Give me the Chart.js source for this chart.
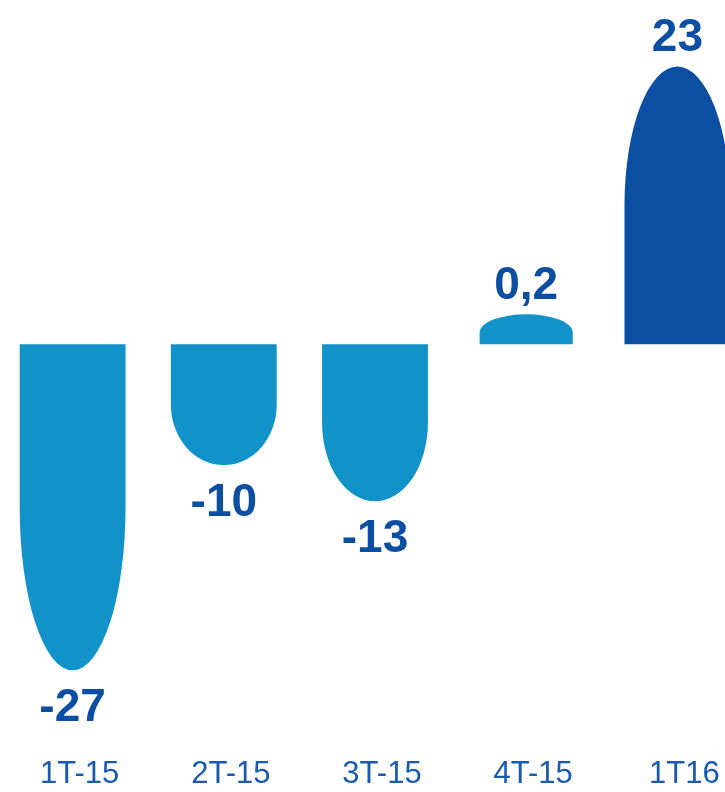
<!DOCTYPE html>
<html>
<head>
<meta charset="utf-8">
<script src="https://cdn.jsdelivr.net/npm/chart.js@4"></script>
<style>
  html, body { margin: 0; padding: 0; background: #ffffff; overflow: hidden; width: 725px; height: 792px; }
  #wrap { position: absolute; left: -3px; top: 0; width: 756px; height: 792px; }
</style>
</head>
<body>
<div id="wrap"><canvas id="c" width="756" height="792"></canvas></div>
<script>
const categories = ['1T-15', '2T-15', '3T-15', '4T-15', '1T16'];
const values = [-27, -10, -13, 0.2, 23];
const barColors = ['#1192C8', '#1192C8', '#1192C8', '#1192C8', '#0A4FA2'];
const labelColor = '#0B4EA2';

const roundedEnds = {
  id: 'roundedEnds',
  afterDatasetsDraw(chart) {
    const ctx = chart.ctx;
    const meta = chart.getDatasetMeta(0);
    meta.data.forEach((el, i) => {
      const p = el.getProps(['x', 'y', 'base', 'width'], true);
      const L = Math.abs(p.base - p.y);
      const rx = (L < 50 ? p.width * 0.88 : p.width) / 2;
      const ry = L < 50 ? L * 0.6 : L * 0.5;
      const down = p.y > p.base;
      const cy = down ? p.y - ry : p.y + ry;
      ctx.save();
      ctx.fillStyle = barColors[i];
      ctx.beginPath();
      ctx.moveTo(p.x - rx, p.base);
      ctx.lineTo(p.x - rx, cy);
      if (down) ctx.ellipse(p.x, cy, rx, ry, 0, Math.PI, 0, true);
      else ctx.ellipse(p.x, cy, rx, ry, 0, Math.PI, 2 * Math.PI, false);
      ctx.lineTo(p.x + rx, p.base);
      ctx.closePath();
      ctx.fill();
      ctx.fillStyle = labelColor;
      ctx.font = 'bold 46px "Liberation Sans", Arial, sans-serif';
      ctx.textAlign = 'center';
      ctx.textBaseline = 'middle';
      const txt = String(values[i]).replace('.', ',');
      const ty = down ? p.y + 38 : p.y - 28;
      ctx.fillText(txt, p.x, ty);
      ctx.restore();
    });
  }
};

new Chart(document.getElementById('c'), {
  type: 'bar',
  data: {
    labels: categories,
    datasets: [{
      data: values,
      backgroundColor: 'rgba(0,0,0,0)',
      borderWidth: 0,
      barPercentage: 0.7,
      categoryPercentage: 1,
      minBarLength: 30
    }]
  },
  options: {
    responsive: false,
    animation: false,
    layout: { padding: { top: 5, bottom: 0, left: 0, right: 0 } },
    plugins: { legend: { display: false }, tooltip: { enabled: false } },
    scales: {
      x: {
        grid: { display: false, drawTicks: false },
        border: { display: false },
        afterFit(scale) { scale.height = 48; },
        ticks: {
          color: '#1A5AAE',
          padding: 12,
          labelOffset: 7,
          font: { family: '"Liberation Sans", Arial, sans-serif', size: 31 }
        }
      },
      y: {
        display: false,
        min: -33.1,
        max: 28.1
      }
    }
  },
  plugins: [roundedEnds]
});
</script>
</body>
</html>
